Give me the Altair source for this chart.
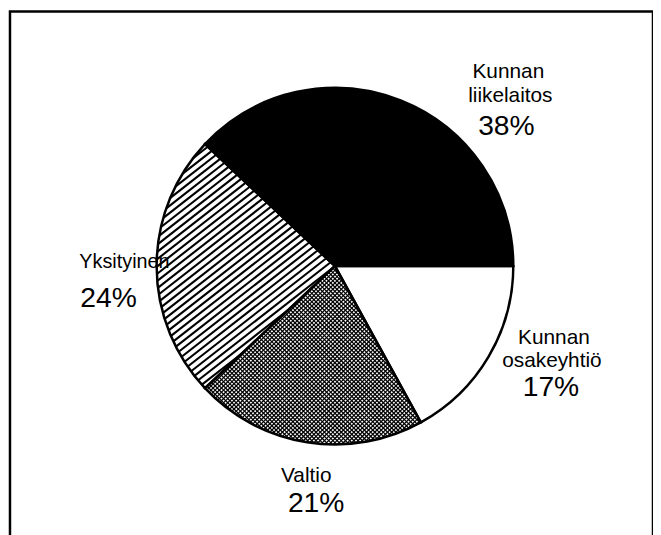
import math
import pandas as pd
import altair as alt

# ---- data ----
categories = ["Kunnan osakeyhtiö", "Valtio", "Yksityinen", "Kunnan liikelaitos"]
shares = [17, 21, 24, 38]
label_lines = [["Kunnan", "osakeyhtiö"], ["Valtio"], ["Yksityinen"], ["Kunnan", "liikelaitos"]]

# ---- layout / style ----
W, H = 649, 540                     # view size (frame)
CX, CY, R = 328, 257, 180           # pie centre (view coords) and radius
START = math.pi / 2                 # start at 3 o'clock, clockwise
FONT = "Liberation Sans"

df = pd.DataFrame({"cat": categories, "share": shares, "ord": list(range(len(categories)))})


def slice_angles(idx):
    total = sum(shares)
    a0 = START + 2 * math.pi * sum(shares[:idx]) / total
    a1 = START + 2 * math.pi * sum(shares[: idx + 1]) / total
    return a0, a1


def hatch_segments(idx, angle_deg, period, phase=0.0):
    """Hatch lines (fill pattern) clipped to the wedge of slice idx."""
    a0, a1 = slice_angles(idx)
    span = a1 - a0

    def inside(dx, dy):
        if dx * dx + dy * dy > R * R:
            return False
        phi = math.atan2(dx, -dy)
        return (phi - a0) % (2 * math.pi) <= span

    a = math.radians(angle_deg)
    d = (math.cos(a), -math.sin(a))
    n = (math.sin(a), math.cos(a))
    rows = []
    kmax = int(R / period) + 2
    step = 0.25
    for k in range(-kmax, kmax + 1):
        c = k * period + phase
        if abs(c) >= R:
            continue
        pts = []
        s = -R
        while s <= R:
            dx = c * n[0] + s * d[0]
            dy = c * n[1] + s * d[1]
            if inside(dx, dy):
                pts.append((dx, dy))
            s += step
        if len(pts) >= 2:
            (xa, ya), (xb, yb) = pts[0], pts[-1]
            rows.append({"x": CX + xa, "y": CY + ya, "x2": CX + xb, "y2": CY + yb})
    return pd.DataFrame(rows)


theta = alt.Theta("share:Q", stack=True,
                  scale=alt.Scale(range=[START, START + 2 * math.pi]))
base = alt.Chart(df).encode(theta=theta, order=alt.Order("ord:Q"),
                            x=alt.value(CX), y=alt.value(CY))

fill_layer = base.mark_arc(radius=R, strokeWidth=0).encode(
    fill=alt.Fill("cat:N", scale=alt.Scale(domain=categories,
                                           range=["white", "white", "white", "black"]),
                  legend=None)
)

xs = alt.Scale(domain=[0, W], nice=False, zero=False)
ys = alt.Scale(domain=[H, 0], nice=False, zero=False)


def rule_layer(seg, width):
    return alt.Chart(seg).mark_rule(color="black", strokeWidth=width, strokeCap="butt").encode(
        x=alt.X("x:Q", scale=xs, axis=None),
        y=alt.Y("y:Q", scale=ys, axis=None),
        x2="x2:Q",
        y2="y2:Q",
    )


hatch = rule_layer(hatch_segments(2, 38, 5.8), 2.1)
cross_a = rule_layer(hatch_segments(1, 45, 3.0), 1.25)
cross_b = rule_layer(hatch_segments(1, -45, 3.0), 1.25)

outline = base.mark_arc(radius=R, fillOpacity=0, stroke="black", strokeWidth=2.5)


def text_line(txt, x, y, size, align="center"):
    return alt.Chart(pd.DataFrame({"t": [txt]})).mark_text(
        font=FONT, fontSize=size, align=align, baseline="alphabetic", color="black"
    ).encode(text="t:N", x=alt.value(x), y=alt.value(y))


pct = [f"{v}%" for v in shares]
NS, PS = 21, 28.5
texts = [
    # Kunnan liikelaitos
    text_line(label_lines[3][0], 503, 67, NS),
    text_line(label_lines[3][1], 505, 91, NS),
    text_line(pct[3], 501, 125, PS),
    # Kunnan osakeyhtiö
    text_line(label_lines[0][0], 549, 336, NS),
    text_line(label_lines[0][1], 547, 359, NS),
    text_line(pct[0], 546, 388, PS),
    # Valtio
    text_line(label_lines[1][0], 299, 475, NS),
    text_line(pct[1], 309, 505, PS),
    # Yksityinen
    text_line(label_lines[2][0], 70, 259, 20, "left"),
    text_line(pct[2], 71, 298, PS, "left"),
]

chart = alt.layer(
    fill_layer,
    hatch,
    cross_a,
    cross_b,
    outline,
    *texts,
).properties(
    width=W, height=H,
    padding={"left": 2, "top": 1, "right": 0, "bottom": 0},
    autosize=alt.AutoSizeParams(type="none"),
    background="white",
).configure_view(stroke="black", strokeWidth=2.5)

chart.save("out.html", embed_options={"renderer": "svg", "actions": False})
